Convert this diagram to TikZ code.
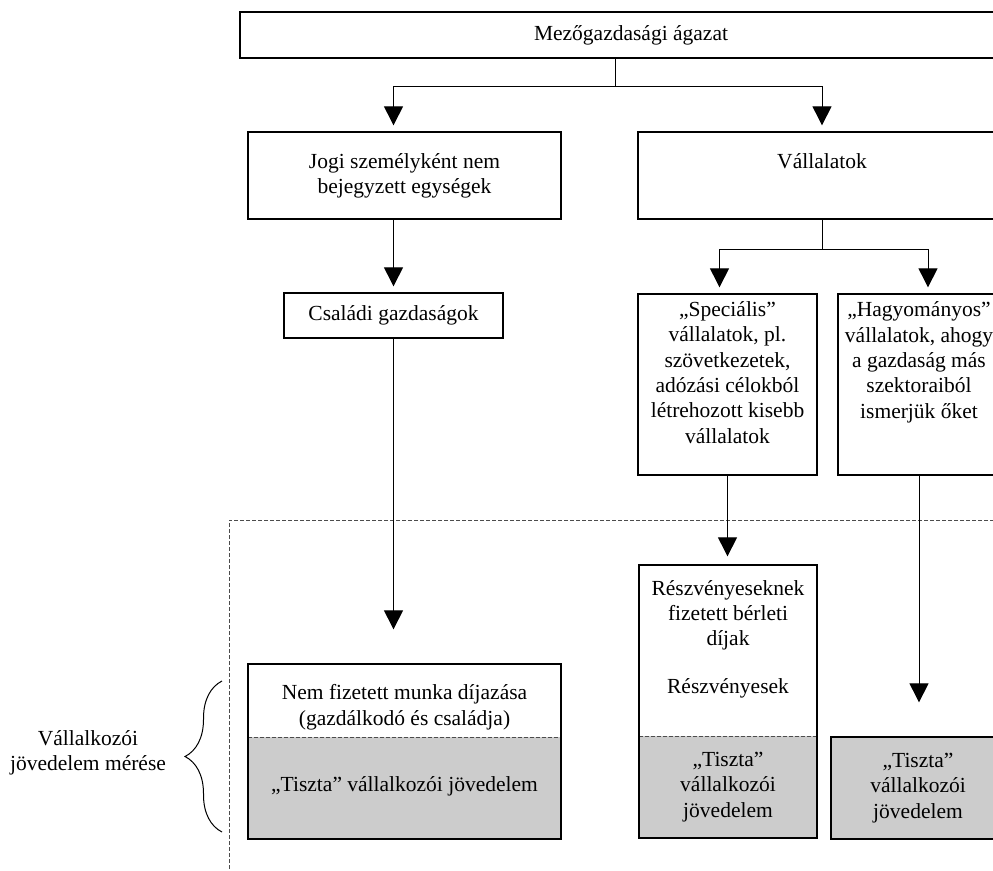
\documentclass[tikz,border=0pt]{standalone}
\usepackage{fontspec}
\setmainfont{Liberation Serif}
\usetikzlibrary{arrows.meta,decorations.pathreplacing}
\definecolor{tisztagray}{gray}{0.8}

\begin{document}
\begin{tikzpicture}[x=1pt,y=-1pt,
		font={\fontsize{21.5}{25.3}\selectfont},
		box/.style={draw,line width=1.3pt,inner sep=0pt,align=center},
		conn/.style={line width=1pt},
		arr/.style={conn,-{Triangle[width=19pt,length=19pt]},shorten >=6pt},
		region/.style={black!70,line width=0.8pt,dash pattern=on 4pt off 2pt},
		splitbox/.style={box,path picture={%
			\fill[tisztagray] (path picture bounding box.south west) rectangle ([yshift=#1]path picture bounding box.south east);
			\draw[region] ([yshift=#1]path picture bounding box.south west) -- ([yshift=#1]path picture bounding box.south east);}}]

	\useasboundingbox (0,0) rectangle (993,870);

	% upper tree
	\node[box,minimum width=782pt,minimum height=46pt] (mezo) at (631,35) {Mezőgazdasági ágazat};
	\node[box,minimum width=313pt,minimum height=87pt] (jogi) at (404.5,175.5) {Jogi személyként nem\\bejegyzett egységek};
	\node[box,minimum width=368pt,text height=36pt,text depth=51pt] (vall) at (822,175.5) {Vállalatok};
	\node[box,minimum width=219pt,minimum height=45pt] (csal) at (393.5,315.5) {Családi gazdaságok};
	\node[box,minimum width=179pt,text height=149pt,text depth=32pt] (spec) at (727.5,384.5)
		{„Speciális”\\vállalatok, pl.\\szövetkezetek,\\adózási célokból\\létrehozott kisebb\\vállalatok};
	\node[box,minimum width=162pt,text height=124pt,text depth=57pt] (hagy) at (919,384.5)
		{„Hagyományos”\\vállalatok, ahogy\\a gazdaság más\\szektoraiból\\ismerjük őket};

	% measured part
	\draw[region] (1000,520) -- (229,520) -- (229,875);
	\node[splitbox=102pt,minimum width=313pt,text height=61pt,text depth=114pt] (nemfiz) at (404.5,751.5)
		{Nem fizetett munka díjazása\\(gazdálkodó és családja)};
	\node (tiszta1) at (404.5,786) {„Tiszta” vállalkozói jövedelem};
	\node[splitbox=102pt,minimum width=178pt,text height=128pt,text depth=145pt] (reszv) at (728,701.5)
		{Részvényeseknek\\fizetett bérleti\\díjak\\[22pt]Részvényesek};
	\node[align=center] (tiszta2) at (728,787) {„Tiszta”\\vállalkozói\\jövedelem};
	\node[box,fill=tisztagray,minimum width=174pt,minimum height=102pt] (tiszta3) at (918,788)
		{„Tiszta”\\vállalkozói\\jövedelem};

	\draw[line width=1pt,decorate,decoration={brace,amplitude=37pt}] (222,832) -- (222,681);
	\node[align=center] (meres) at (88,753) {Vállalkozói\\jövedelem mérése};

	% connectors
	\coordinate (split1) at (615,86);
	\coordinate (split2) at (822,249);
	\draw[conn] (mezo.south -| split1) -- (split1);
	\draw[arr] (split1) -| (csal.north |- jogi.north);
	\draw[arr] (split1) -| (vall.north);
	\draw[arr] (jogi.south -| csal.north) -- (csal.north);
	\draw[conn] (vall.south) -- (split2);
	\draw[arr] (split2) -| ([xshift=-8pt]spec.north);
	\draw[arr] (split2) -| ([xshift=9pt]hagy.north);
	\draw[arr,shorten >=34pt] (csal.south) -- (csal.south |- nemfiz.north);
	\draw[arr,shorten >=8pt] (spec.south) -- (spec.south |- reszv.north);
	\draw[arr,shorten >=34pt] (hagy.south) -- (hagy.south |- tiszta3.north);
\end{tikzpicture}
\end{document}
